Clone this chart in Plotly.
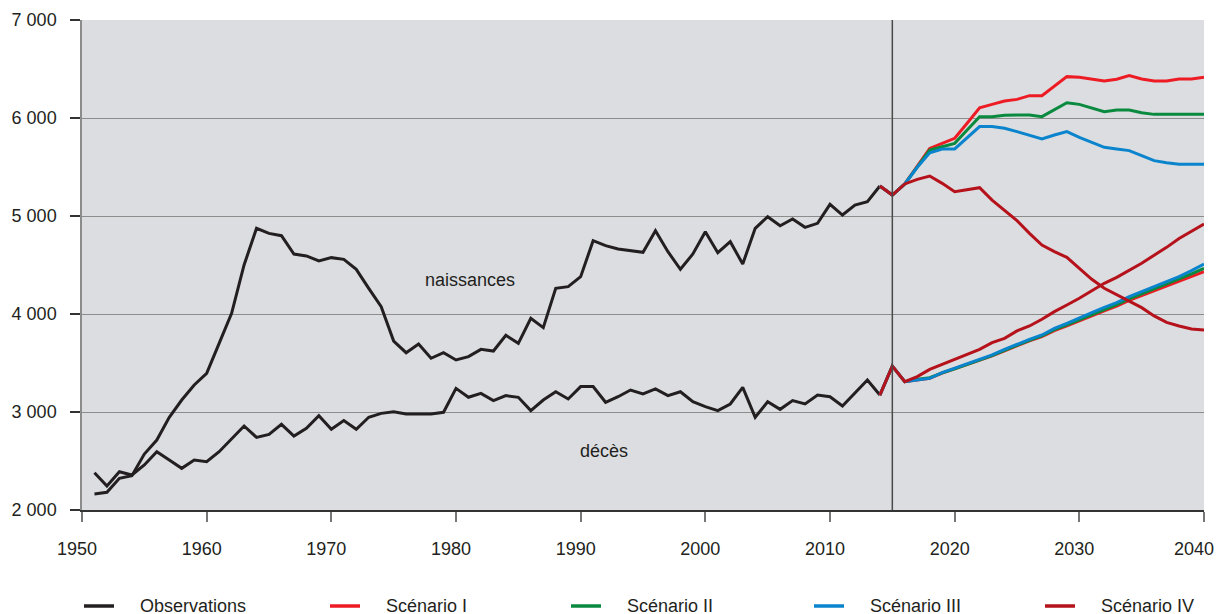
import plotly.graph_objects as go

# Observed births and deaths, 1951-2014
obs_years = list(range(1951, 2015))
obs_births = [2163, 2180, 2323, 2350, 2571, 2714, 2946, 3122, 3276, 3395,
              3701, 4007, 4500, 4874, 4823, 4799, 4612, 4592, 4541, 4575,
              4558, 4456, 4262, 4075, 3724, 3605, 3694, 3548, 3605, 3531,
              3565, 3639, 3622, 3782, 3701, 3956, 3861, 4262, 4279, 4381,
              4748, 4697, 4663, 4646, 4629, 4850, 4636, 4456, 4612, 4840,
              4626, 4738, 4510, 4874, 4993, 4901, 4969, 4884, 4925, 5119,
              5010, 5112, 5146, 5306]
obs_deaths = [2381, 2245, 2391, 2357, 2459, 2595, 2510, 2425, 2510, 2493,
              2595, 2731, 2857, 2741, 2772, 2874, 2755, 2833, 2963, 2823,
              2912, 2823, 2946, 2986, 3003, 2980, 2980, 2980, 2997, 3241,
              3150, 3190, 3116, 3167, 3150, 3014, 3122, 3207, 3133, 3259,
              3259, 3099, 3156, 3224, 3184, 3235, 3167, 3207, 3105, 3054,
              3014, 3082, 3252, 2946, 3105, 3027, 3116, 3082, 3173, 3156,
              3061, 3190, 3327, 3173]

# Projections, 2014-2040 (2014 = last observation)
proj_years = list(range(2014, 2041))
births_I = [5306, 5214, 5327, 5510, 5690, 5741, 5793, 5946, 6105, 6139, 6173,
            6190, 6228, 6228, 6327, 6422, 6415, 6395, 6378, 6395, 6432, 6398,
            6378, 6378, 6398, 6398, 6415]
births_II = [5306, 5214, 5327, 5505, 5673, 5707, 5741, 5878, 6014, 6014, 6027,
             6031, 6031, 6014, 6088, 6156, 6139, 6105, 6065, 6082, 6082, 6054,
             6037, 6037, 6037, 6037, 6037]
births_III = [5306, 5214, 5327, 5497, 5646, 5684, 5684, 5803, 5912, 5912, 5895,
              5861, 5827, 5786, 5827, 5861, 5803, 5752, 5701, 5684, 5667, 5616,
              5565, 5544, 5527, 5527, 5527]
births_IV = [5306, 5214, 5327, 5374, 5408, 5333, 5248, 5265, 5289, 5163, 5061,
             4952, 4823, 4704, 4636, 4578, 4466, 4354, 4262, 4194, 4133, 4065,
             3980, 3915, 3878, 3847, 3837]
deaths_I = [3173, 3469, 3310, 3330, 3345, 3398, 3440, 3483, 3527, 3572, 3625,
            3678, 3725, 3770, 3830, 3880, 3928, 3982, 4033, 4080, 4140, 4190,
            4240, 4290, 4340, 4390, 4432]
deaths_II = [3173, 3469, 3310, 3335, 3350, 3400, 3440, 3485, 3530, 3575, 3630,
             3685, 3732, 3778, 3840, 3890, 3940, 3995, 4048, 4095, 4155, 4205,
             4255, 4305, 4355, 4410, 4466]
deaths_III = [3173, 3469, 3310, 3327, 3344, 3401, 3446, 3490, 3537, 3582, 3639,
              3694, 3741, 3786, 3854, 3905, 3956, 4014, 4068, 4116, 4177, 4228,
              4279, 4330, 4381, 4442, 4510]
deaths_IV = [3173, 3469, 3310, 3361, 3435, 3486, 3537, 3588, 3639, 3707, 3752,
             3827, 3878, 3946, 4024, 4092, 4160, 4238, 4313, 4374, 4442, 4517,
             4600, 4680, 4770, 4840, 4918]

y_ticks = [2000, 3000, 4000, 5000, 6000, 7000]
y_tick_labels = ['2 000', '3 000', '4 000', '5 000', '6 000', '7 000']
x_ticks = list(range(1950, 2041, 10))
# last label padded so it stays inside the page
x_tick_labels = ['1950', '1960', '1970', '1980', '1990', '2000', '2010', '2020', '2030',
                 '2040\u00a0\u00a0']

legend_names = ['Observations', 'Scénario I', 'Scénario II', 'Scénario III', 'Scénario IV']
legend_colors = ['#231f20', '#ed1c24', '#0a8a3e', '#0a84cc', '#b5121b']

FONT = 'Liberation Sans, Arial, sans-serif'
# the page body adds an 8px offset, so margins are shifted by 8px
W, H = 1222, 610
L, R, T, B = 74, 26, 12, 108
PLOT_LEFT, PLOT_BOTTOM = 82, 510        # page pixels
pw, ph = W - L - R, H - T - B

fig = go.Figure()

fig.add_trace(go.Scatter(x=obs_years, y=obs_births, mode='lines',
                         line=dict(color=legend_colors[0], width=3)))
fig.add_trace(go.Scatter(x=obs_years, y=obs_deaths, mode='lines',
                         line=dict(color=legend_colors[0], width=3)))

scen_births = [births_I, births_II, births_III, births_IV]
scen_deaths = [deaths_I, deaths_II, deaths_III, deaths_IV]
for i in range(4):
    color = legend_colors[i + 1]
    fig.add_trace(go.Scatter(x=proj_years, y=scen_births[i], mode='lines',
                             line=dict(color=color, width=3)))
    fig.add_trace(go.Scatter(x=proj_years, y=scen_deaths[i], mode='lines',
                             line=dict(color=color, width=3)))

# Vertical separator between observation and projection
fig.add_vline(x=2015, line=dict(color='#4a4a4a', width=1.5))

fig.add_annotation(x=1981.1, y=4347, text='naissances', showarrow=False,
                   font=dict(size=18, color='#231f20', family=FONT))
fig.add_annotation(x=1991.9, y=2602, text='décès', showarrow=False,
                   font=dict(size=18, color='#231f20', family=FONT))

# Legend drawn below the plot (page pixel positions converted to paper coords)
legend_sym_x = [84, 330, 571, 814, 1045]
legend_y = (PLOT_BOTTOM - 606) / ph
for name, color, px in zip(legend_names, legend_colors, legend_sym_x):
    fig.add_shape(type='line', xref='paper', yref='paper',
                  x0=(px - PLOT_LEFT) / pw, x1=(px + 30 - PLOT_LEFT) / pw,
                  y0=legend_y, y1=legend_y,
                  line=dict(color=color, width=3.5))
    fig.add_annotation(xref='paper', yref='paper', x=(px + 54 - PLOT_LEFT) / pw, y=legend_y,
                       xanchor='left', yanchor='middle', text=name, showarrow=False,
                       font=dict(size=18, color='#231f20', family=FONT))

fig.update_xaxes(range=[1950, 2040], tickvals=x_ticks, ticktext=x_tick_labels,
                 showgrid=False, zeroline=False,
                 showline=True, linecolor='#333333', linewidth=1.5,
                 ticks='outside', ticklen=10, tickcolor='#777777', tickwidth=1.5,
                 ticklabelstandoff=12, ticklabelshift=-5,
                 automargin=False, ticklabeloverflow='allow',
                 tickfont=dict(size=18, color='#231f20', family=FONT))
fig.update_yaxes(range=[2000, 7000], tickvals=y_ticks, ticktext=y_tick_labels,
                 showgrid=True, gridcolor='#8c8c8c', gridwidth=1, zeroline=False,
                 showline=True, linecolor='#8c8c8c', linewidth=1.5,
                 ticks='outside', ticklen=10, tickcolor='#333333', tickwidth=1.5,
                 ticklabelstandoff=10, automargin=False, ticklabeloverflow='allow',
                 tickfont=dict(size=18, color='#231f20', family=FONT))

fig.update_layout(
    width=W, height=H,
    margin=dict(l=L, r=R, t=T, b=B),
    plot_bgcolor='#dcdde0', paper_bgcolor='white',
    font=dict(family=FONT, color='#231f20'),
    showlegend=False,
)

fig.write_html('out.html')
